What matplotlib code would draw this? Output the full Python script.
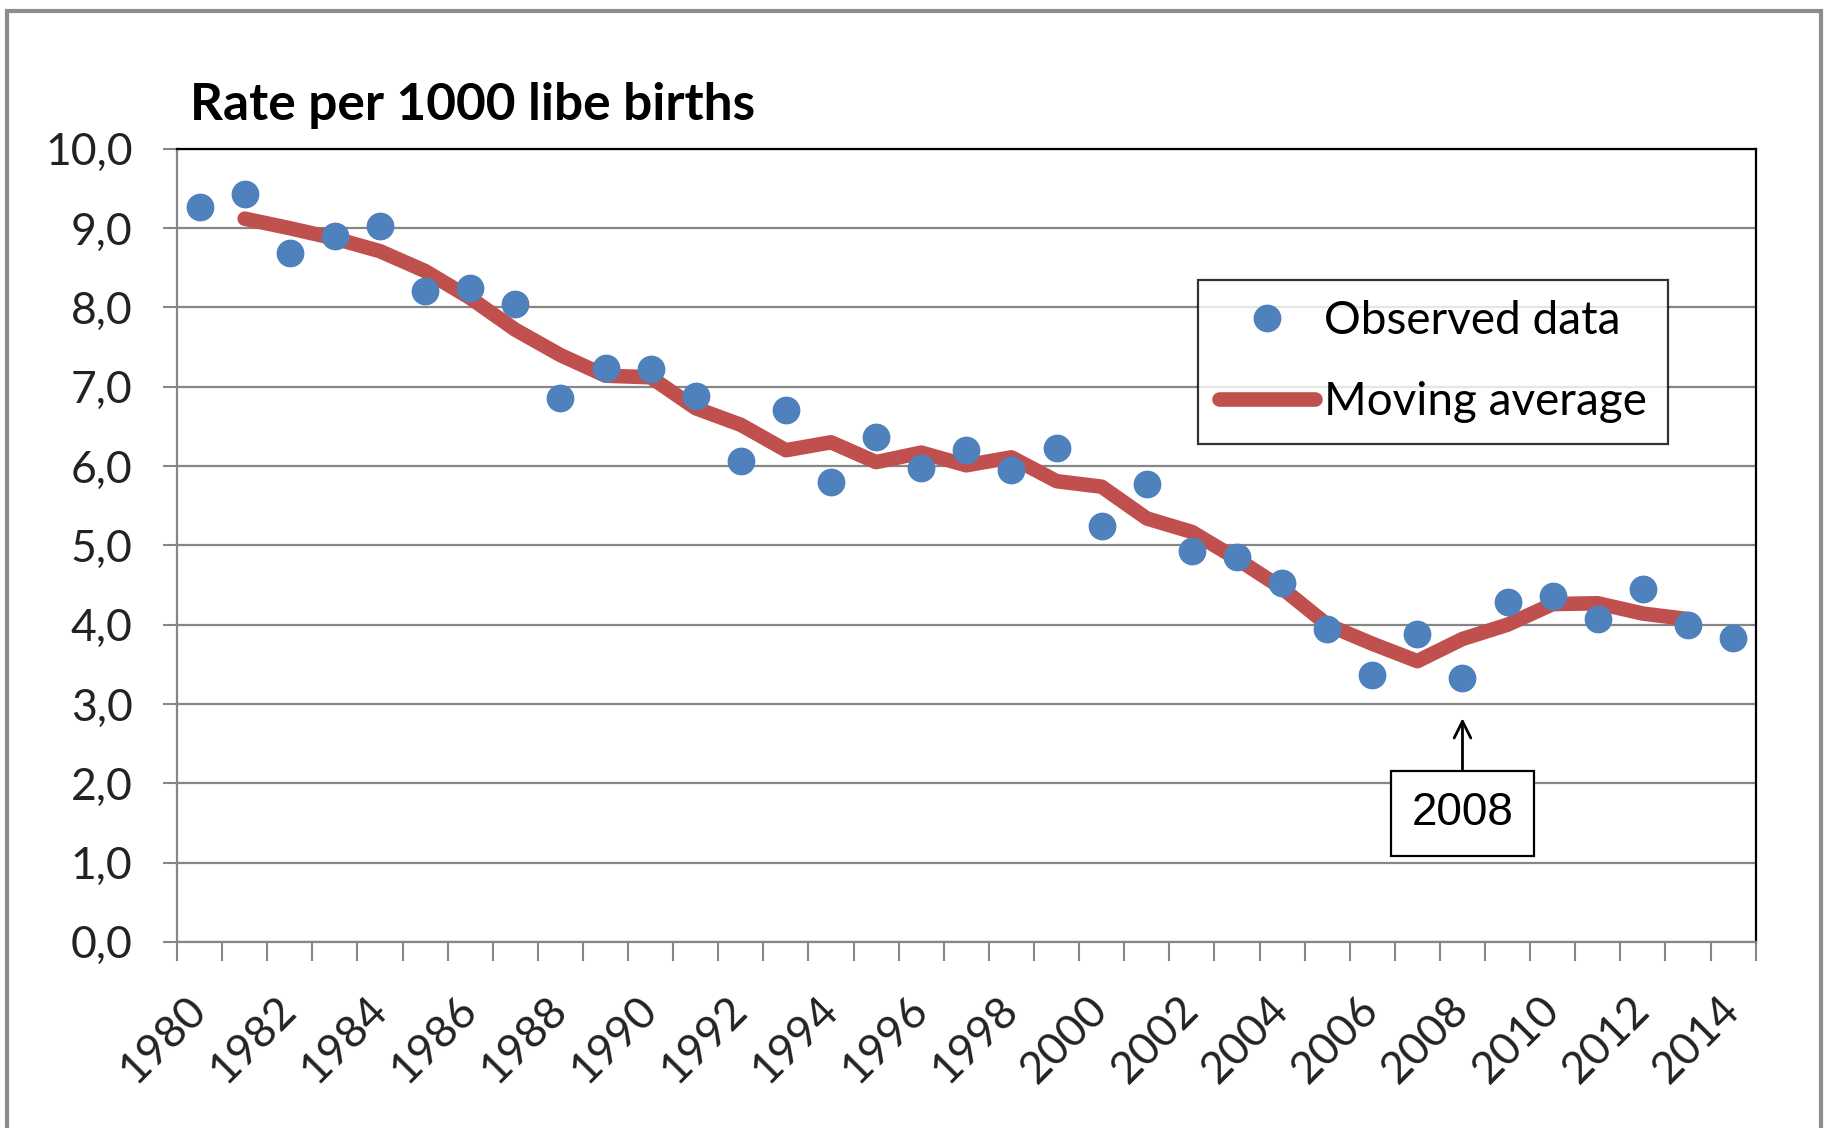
import matplotlib
matplotlib.use('Agg')
import matplotlib.pyplot as plt
from matplotlib.patches import Rectangle
from matplotlib.ticker import FuncFormatter

plt.rcParams['font.family'] = ['Lato', 'DejaVu Sans']

# data
years = list(range(1980, 2015))
observed = [9.27, 9.43, 8.69, 8.90, 9.03, 8.21, 8.24, 8.05, 6.86, 7.24,
            7.22, 6.89, 6.06, 6.71, 5.80, 6.37, 5.98, 6.20, 5.95, 6.23,
            5.24, 5.77, 4.93, 4.85, 4.52, 3.94, 3.36, 3.88, 3.33, 4.29,
            4.36, 4.07, 4.45, 4.00, 3.83]
ma_years = list(range(1981, 2014))
moving_avg = [9.12, 9.00, 8.87, 8.71, 8.46, 8.12, 7.72, 7.40, 7.14, 7.12,
              6.73, 6.52, 6.20, 6.30, 6.05, 6.17, 6.01, 6.11, 5.81, 5.74,
              5.34, 5.17, 4.83, 4.46, 4.00, 3.76, 3.54, 3.82, 4.00, 4.26,
              4.27, 4.14, 4.07]
label_years = years[::2]
y_ticks = list(range(0, 11))
note_year = 2008

fig = plt.figure(figsize=(18.25, 11.28), dpi=100)
ax = fig.add_axes([0.097, 0.165, 0.865, 0.703])

x_obs = [years.index(y) for y in years]
x_ma = [years.index(y) for y in ma_years]

line, = ax.plot(x_ma, moving_avg, color='#C0504D', lw=10.5,
                solid_joinstyle='round', solid_capstyle='round',
                label='Moving average', zorder=3)
dots, = ax.plot(x_obs, observed, 'o', color='#4F81BD', ms=19,
                label='Observed data', zorder=4)

ax.set_xlim(-0.5, len(years) - 0.5)
ax.set_ylim(0, 10)

# category axis: ticks between categories, labels on every second one
ax.set_xticks([i - 0.5 for i in range(len(years) + 1)])
ax.set_xticklabels([])
ax.set_xticks([years.index(y) for y in label_years], minor=True)
ax.set_xticklabels([str(y) for y in label_years], minor=True,
                   rotation=45, ha='right', va='center',
                   rotation_mode='anchor', fontsize=32)
ax.tick_params(axis='x', which='major', direction='out', length=14,
               width=1.5, color='#868686')
ax.tick_params(axis='x', which='minor', length=0, pad=44)

ax.set_yticks(y_ticks)
ax.yaxis.set_major_formatter(FuncFormatter(lambda v, p: ('%.1f' % v).replace('.', ',')))
ax.tick_params(axis='y', direction='out', length=10, width=1.5,
               color='#868686', labelsize=32, pad=22)
for t in ax.get_yticklabels() + ax.get_xticklabels(minor=True):
    t.set_color('#222222')

ax.yaxis.grid(True, color='#868686', lw=1.6)
ax.set_axisbelow(True)
for s in ['left', 'bottom']:
    ax.spines[s].set_color('#868686')
    ax.spines[s].set_linewidth(1.6)
for s in ['top', 'right']:
    ax.spines[s].set_color('black')
    ax.spines[s].set_linewidth(1.6)

leg = ax.legend(handles=[dots, line], loc='upper left',
                bbox_to_anchor=(0.647, 0.835), fontsize=33,
                frameon=True, fancybox=False, edgecolor='black',
                handlelength=2.1, labelspacing=0.85, borderpad=0.45,
                handletextpad=0.2, borderaxespad=0)
leg.get_frame().set_linewidth(1.6)

xi = years.index(note_year)
ax.annotate(str(note_year), xy=(xi, 2.82), xytext=(xi, 1.62),
            ha='center', va='center', fontsize=33, family='Liberation Sans',
            bbox=dict(boxstyle='square,pad=0.45', fc='white', ec='black', lw=1.6),
            arrowprops=dict(arrowstyle='->', color='black', lw=2,
                            shrinkA=0, shrinkB=0, mutation_scale=30),
            zorder=5)

fig.text(190 / 1825, 1 - 120 / 1128, 'Rate per 1000 libe births',
         fontsize=37, fontweight='bold', ha='left', va='baseline')

fig.patches.append(Rectangle((7 / 1825, -0.1), 1814 / 1825, 1.1 - 11 / 1128,
                             transform=fig.transFigure, fill=False,
                             edgecolor='#8c8c8c', lw=3))

fig.savefig('out.png', dpi=100)
